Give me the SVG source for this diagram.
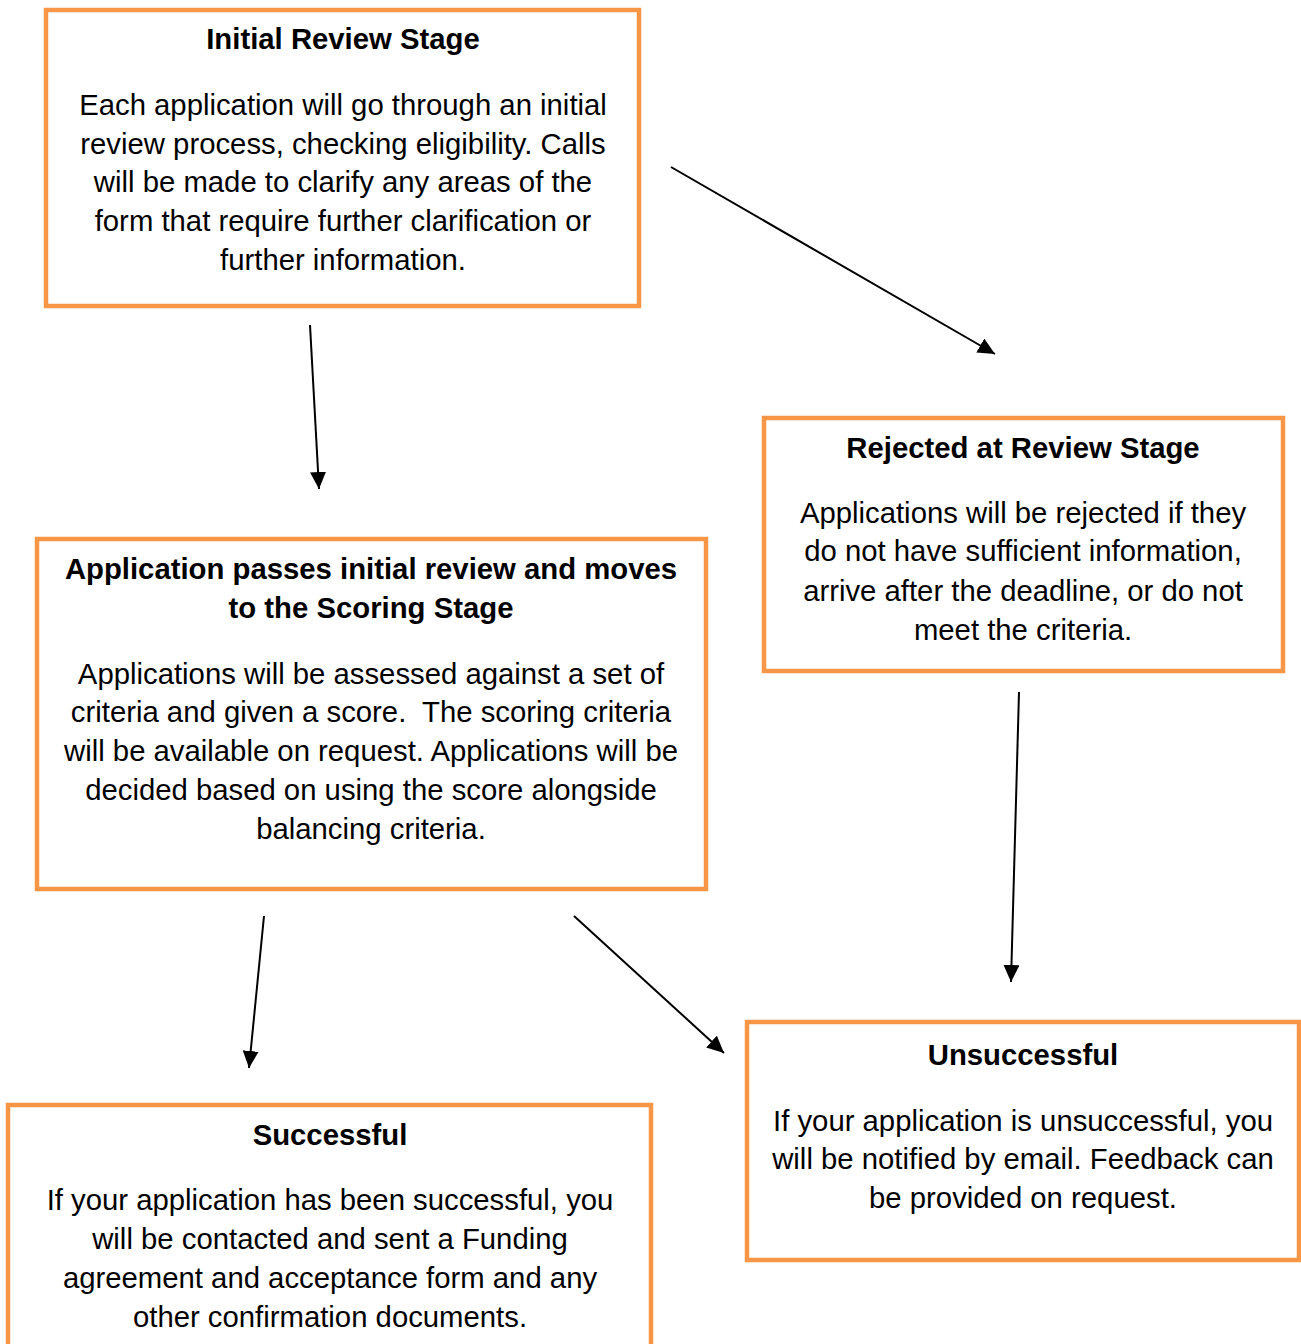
<svg xmlns="http://www.w3.org/2000/svg" width="1301" height="1344" viewBox="0 0 1301 1344">
<style>
.box{fill:#fff;stroke:#F79646;stroke-width:4.5}
.t{font-family:"Liberation Sans",Arial,sans-serif;font-size:29.3px;fill:#000;text-anchor:middle}
.b{font-weight:bold}
.c{stroke:#000;stroke-width:2;fill:none}
</style>
<defs>
<marker id="ah" markerUnits="userSpaceOnUse" markerWidth="18" markerHeight="16" refX="17" refY="8" orient="auto">
<path d="M0,0 L17,8 L0,16 Z" fill="#000"/>
</marker>
</defs>
<rect width="1301" height="1344" fill="#fff"/>
<g id="initial">
<rect class="box" x="46" y="10" width="593" height="296"/>
<text class="t b" x="343" y="49">Initial Review Stage</text>
<text class="t" x="343" y="115">Each application will go through an initial</text>
<text class="t" x="343" y="154">review process, checking eligibility. Calls</text>
<text class="t" x="343" y="192">will be made to clarify any areas of the</text>
<text class="t" x="343" y="231">form that require further clarification or</text>
<text class="t" x="343" y="270">further information.</text>
</g>
<g id="rejected">
<rect class="box" x="764" y="418" width="519" height="253"/>
<text class="t b" x="1023" y="458">Rejected at Review Stage</text>
<text class="t" x="1023" y="523">Applications will be rejected if they</text>
<text class="t" x="1023" y="561">do not have sufficient information,</text>
<text class="t" x="1023" y="601">arrive after the deadline, or do not</text>
<text class="t" x="1023" y="640">meet the criteria.</text>
</g>
<g id="scoring">
<rect class="box" x="37" y="539" width="669" height="350"/>
<text class="t b" x="371" y="579">Application passes initial review and moves</text>
<text class="t b" x="371" y="618">to the Scoring Stage</text>
<text class="t" x="371" y="684">Applications will be assessed against a set of</text>
<text class="t" x="371" y="722" xml:space="preserve">criteria and given a score.  The scoring criteria</text>
<text class="t" x="371" y="761">will be available on request. Applications will be</text>
<text class="t" x="371" y="800">decided based on using the score alongside</text>
<text class="t" x="371" y="839">balancing criteria.</text>
</g>
<g id="successful">
<rect class="box" x="8" y="1105" width="643" height="260"/>
<text class="t b" x="330" y="1145">Successful</text>
<text class="t" x="330" y="1210">If your application has been successful, you</text>
<text class="t" x="330" y="1249">will be contacted and sent a Funding</text>
<text class="t" x="330" y="1288">agreement and acceptance form and any</text>
<text class="t" x="330" y="1327">other confirmation documents.</text>
</g>
<g id="unsuccessful">
<rect class="box" x="747" y="1022" width="552" height="238"/>
<text class="t b" x="1023" y="1065">Unsuccessful</text>
<text class="t" x="1023" y="1131">If your application is unsuccessful, you</text>
<text class="t" x="1023" y="1169">will be notified by email. Feedback can</text>
<text class="t" x="1023" y="1208">be provided on request.</text>
</g>
<g id="connectors">
<line class="c" x1="310" y1="325" x2="319" y2="489" marker-end="url(#ah)"/>
<line class="c" x1="671" y1="167" x2="995" y2="354" marker-end="url(#ah)"/>
<line class="c" x1="1019" y1="692" x2="1011" y2="982" marker-end="url(#ah)"/>
<line class="c" x1="264" y1="916" x2="249" y2="1068" marker-end="url(#ah)"/>
<line class="c" x1="574" y1="916" x2="724" y2="1053" marker-end="url(#ah)"/>
</g>
</svg>
